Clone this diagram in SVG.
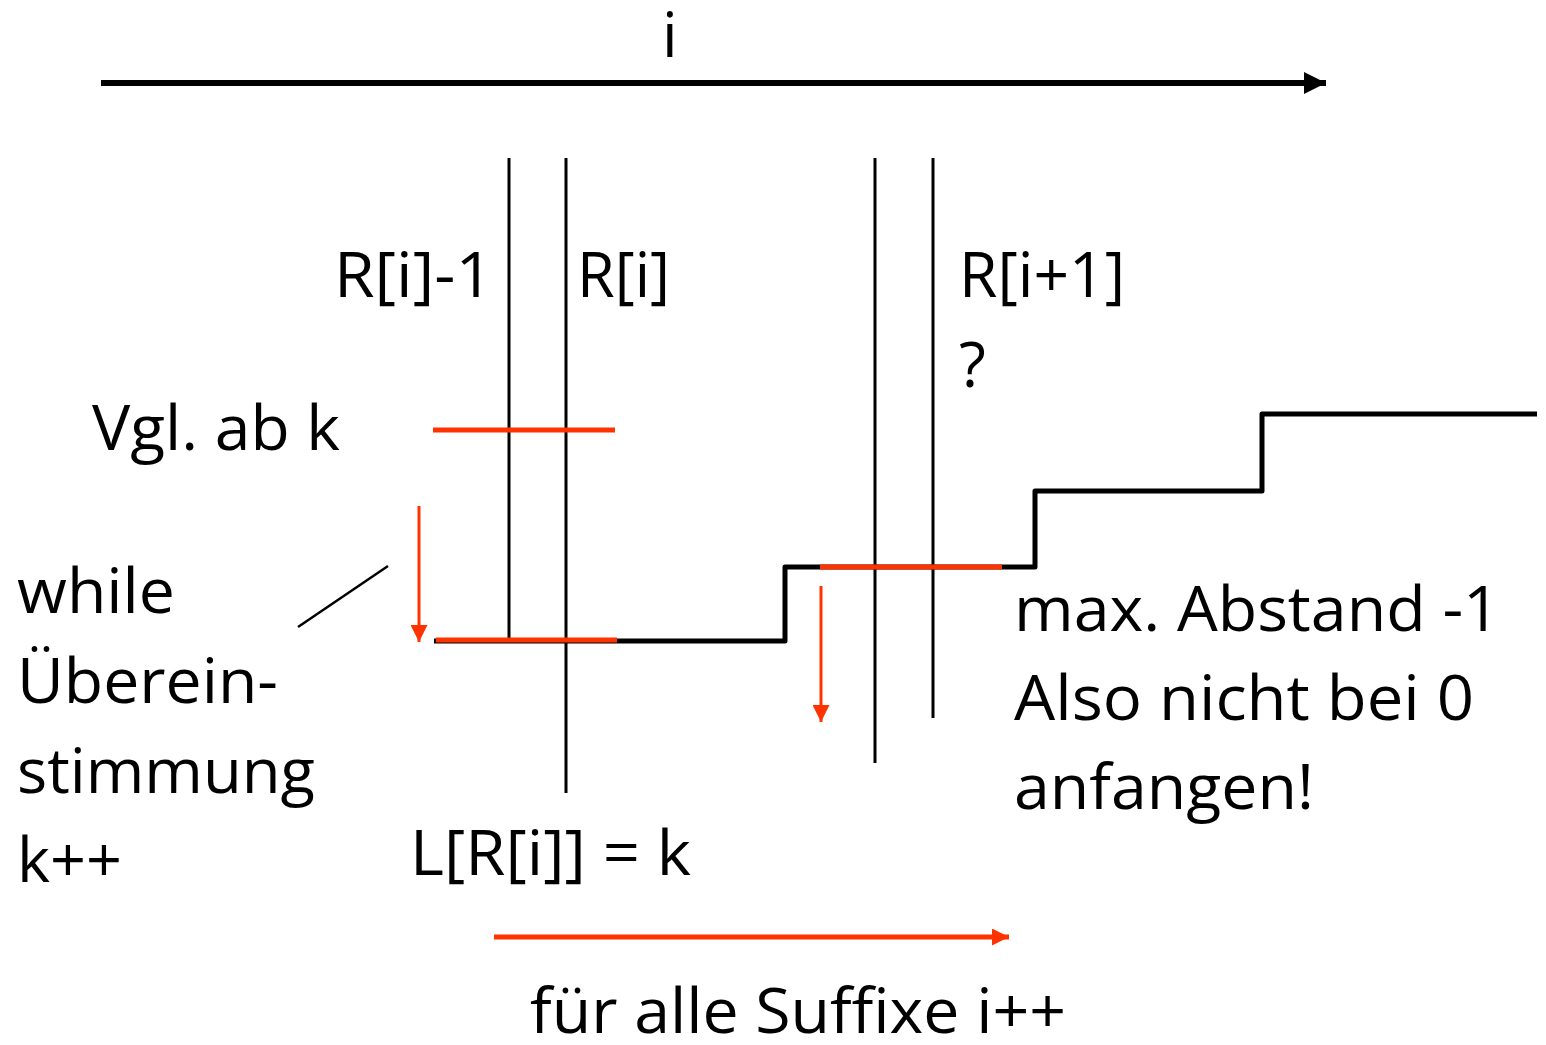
<svg xmlns="http://www.w3.org/2000/svg" width="1546" height="1045" viewBox="0 0 1546 1045">
<defs>
<style>
text{font-family:"Open Sans","Noto Sans","Liberation Sans",sans-serif;font-size:62px;fill:#000}
.blk{stroke:#000;fill:none}
.org{stroke:#FF3300;fill:none}
</style>
<marker id="ahB" viewBox="0 0 10 10" refX="10" refY="5" markerUnits="userSpaceOnUse" markerWidth="24" markerHeight="22" orient="auto"><path d="M0,0 L10,5 L0,10 z" fill="#000"/></marker>
<marker id="ahO" viewBox="0 0 10 10" refX="10" refY="5" markerUnits="userSpaceOnUse" markerWidth="17" markerHeight="17" orient="auto"><path d="M0,0 L10,5 L0,10 z" fill="#FF3300"/></marker>
</defs>
<rect width="1546" height="1045" fill="#fff"/>
<g id="connectors">
<line class="blk" x1="101" y1="83" x2="1326" y2="83" stroke-width="6" marker-end="url(#ahB)"/>
<line class="blk" x1="509" y1="158" x2="509" y2="640" stroke-width="3"/>
<line class="blk" x1="566" y1="158" x2="566" y2="793" stroke-width="3"/>
<line class="blk" x1="875" y1="158" x2="875" y2="763" stroke-width="3"/>
<line class="blk" x1="933" y1="158" x2="933" y2="718" stroke-width="3"/>
<path class="blk" d="M434,641 H785 V567 H1035 V491 H1262 V414 H1537" stroke-width="5" stroke-linejoin="round"/>
<line class="blk" x1="298" y1="627" x2="388" y2="566" stroke-width="2.5"/>
<line class="org" x1="433" y1="430" x2="615" y2="430" stroke-width="5"/>
<line class="org" x1="436" y1="640" x2="617" y2="640" stroke-width="5"/>
<line class="org" x1="820" y1="567" x2="1002" y2="567" stroke-width="5"/>
<line class="org" x1="419" y1="506" x2="419" y2="642" stroke-width="3" marker-end="url(#ahO)"/>
<line class="org" x1="821" y1="586" x2="821" y2="722" stroke-width="3" marker-end="url(#ahO)"/>
<line class="org" x1="494" y1="937" x2="1009" y2="937" stroke-width="5" marker-end="url(#ahO)"/>
</g>
<g id="label-i"><text x="662" y="57">i</text></g>
<g id="label-Ri-1"><text x="334" y="297" textLength="159" lengthAdjust="spacingAndGlyphs">R[i]-1</text></g>
<g id="label-Ri"><text x="577" y="297" textLength="93" lengthAdjust="spacingAndGlyphs">R[i]</text></g>
<g id="label-Ri1"><text x="959" y="297" textLength="166" lengthAdjust="spacingAndGlyphs">R[i+1]</text><text x="959" y="387">?</text></g>
<g id="label-vgl"><text x="92" y="450" textLength="248" lengthAdjust="spacingAndGlyphs">Vgl. ab k</text></g>
<g id="label-while">
<text x="17" y="613" textLength="158" lengthAdjust="spacingAndGlyphs">while</text>
<text x="17" y="703" textLength="261" lengthAdjust="spacingAndGlyphs">Überein-</text>
<text x="17" y="793" textLength="298" lengthAdjust="spacingAndGlyphs">stimmung</text>
<text x="17" y="882" textLength="105" lengthAdjust="spacingAndGlyphs">k++</text>
</g>
<g id="label-max">
<text x="1014" y="631" textLength="486" lengthAdjust="spacingAndGlyphs">max. Abstand -1</text>
<text x="1014" y="720" textLength="460" lengthAdjust="spacingAndGlyphs">Also nicht bei 0</text>
<text x="1014" y="809" textLength="300" lengthAdjust="spacingAndGlyphs">anfangen!</text>
</g>
<g id="label-L"><text x="410" y="875" textLength="281" lengthAdjust="spacingAndGlyphs">L[R[i]] = k</text></g>
<g id="label-fuer"><text x="530" y="1033" textLength="536" lengthAdjust="spacingAndGlyphs">für alle Suffixe i++</text></g>
</svg>
